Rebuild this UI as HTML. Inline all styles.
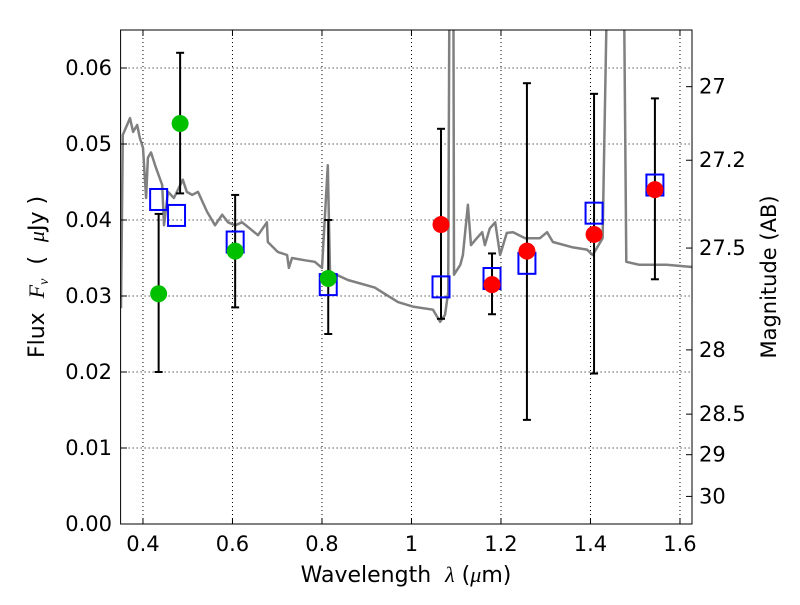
<!DOCTYPE html>
<html><head><meta charset="utf-8"><style>body{margin:0;background:#fff}svg text{font-family:"DejaVu Sans","Liberation Sans",sans-serif}</style></head>
<body>
<svg id="chart" width="800" height="600" xmlns="http://www.w3.org/2000/svg">
<defs><clipPath id="pc"><rect x="120.6" y="30" width="571.4" height="494"/></clipPath></defs>
<g id="grid"></g>
<g id="spec" clip-path="url(#pc)"></g>
<g id="marks"></g>
<rect x="120.6" y="30" width="571.4" height="494" fill="none" stroke="#000" stroke-width="1"/>
<g id="axes" font-size="21"></g>
<text x="406" y="582" font-size="22" text-anchor="middle" xml:space="preserve">Wavelength  <tspan font-style="italic" font-family="Liberation Serif">λ</tspan> (<tspan font-style="italic" font-family="Liberation Serif">μ</tspan>m)</text>
<text transform="translate(44,277) rotate(-90)" font-size="22" text-anchor="middle" xml:space="preserve">Flux  <tspan font-style="italic" font-family="Liberation Serif">F</tspan><tspan font-style="italic" font-size="14" font-family="Liberation Serif" dy="4">ν</tspan><tspan dy="-4">  (  </tspan><tspan font-style="italic" font-family="Liberation Serif">μ</tspan>Jy )</text>
<text transform="translate(776,277) rotate(-90)" font-size="21" text-anchor="middle">Magnitude (AB)</text>
</svg>
<script>
const specX=[0.351,0.355,0.371,0.378,0.387,0.393,0.400,0.407,0.411,0.418,0.427,0.443,0.447,0.456,0.469,0.489,0.498,0.510,0.523,0.543,0.561,0.577,0.590,0.606,0.621,0.634,0.657,0.677,0.679,0.701,0.722,0.726,0.733,0.762,0.784,0.800,0.813,0.818,0.858,0.918,0.970,1.003,1.048,1.064,1.075,1.082,1.086,1.093,1.095,1.109,1.115,1.126,1.133,1.146,1.158,1.164,1.175,1.187,1.198,1.213,1.227,1.254,1.287,1.303,1.316,1.361,1.392,1.405,1.427,1.443,1.472,1.480,1.509,1.570,1.628];
const specY=[0.0284,0.0512,0.0534,0.0516,0.0525,0.0508,0.0495,0.0429,0.0482,0.0489,0.0472,0.0446,0.0393,0.0437,0.0429,0.0453,0.0437,0.0433,0.0437,0.0411,0.0393,0.0407,0.0397,0.0393,0.0397,0.0391,0.0380,0.0397,0.0371,0.0358,0.0354,0.0337,0.0350,0.0347,0.0345,0.0337,0.0472,0.0332,0.0321,0.0311,0.0292,0.0286,0.0282,0.0266,0.0275,0.0305,0.09,0.09,0.0328,0.0341,0.0354,0.0420,0.0367,0.0376,0.0384,0.0367,0.0389,0.0397,0.0354,0.0383,0.0384,0.0376,0.0376,0.0384,0.0371,0.0364,0.0361,0.0354,0.0376,0.09,0.09,0.0345,0.0341,0.0341,0.0338];
const greenX=[0.435,0.483,0.606,0.814];
const greenY=[0.0303,0.0527,0.0359,0.0323];
const greenLo=[0.0200,0.0435,0.0285,0.0250];
const greenHi=[0.0408,0.0620,0.0433,0.0400];
const redX=[1.066,1.180,1.258,1.408,1.544];
const redY=[0.0394,0.0315,0.0359,0.0381,0.0440];
const redLo=[0.0270,0.0276,0.0137,0.0198,0.0322];
const redHi=[0.0520,0.0356,0.0580,0.0566,0.0560];
const modelX=[0.435,0.475,0.606,0.814,1.066,1.180,1.258,1.408,1.544];
const modelY=[0.0427,0.0406,0.0371,0.0315,0.0312,0.0323,0.0343,0.0409,0.0446];
const xTicks=[0.4,0.6,0.8,1.0,1.2,1.4,1.6];
const xTickLabels=["0.4","0.6","0.8","1","1.2","1.4","1.6"];
const yTicks=[0,0.01,0.02,0.03,0.04,0.05,0.06];
const yTickLabels=["0.00","0.01","0.02","0.03","0.04","0.05","0.06"];
const magTicks=[27,27.2,27.5,28,28.5,29,30];
const magTickLabels=["27","27.2","27.5","28","28.5","29","30"];
const X=v=>120.6+(v-0.35)*447.5, Y=v=>524-v*7600;
const M=m=>Y(Math.pow(10,(23.9-m)/2.5));
const NS="http://www.w3.org/2000/svg";
function mk(p,t,a){const e=document.createElementNS(NS,t);for(const k in a)e.setAttribute(k,a[k]);p.appendChild(e);return e;}
const grid=document.getElementById('grid'),axes=document.getElementById('axes'),spec=document.getElementById('spec'),marks=document.getElementById('marks');
xTicks.forEach((t,i)=>{const x=X(t);
 let g=mk(grid,'line',{x1:x,x2:x,y1:30,y2:524,stroke:'#000','stroke-dasharray':'1,3','stroke-width':1});
 
 mk(axes,'line',{x1:x,x2:x,y1:524,y2:518,stroke:'#000'});mk(axes,'line',{x1:x,x2:x,y1:30,y2:36,stroke:'#000'});
 let l=mk(axes,'text',{x:x,y:551,'text-anchor':'middle'});l.textContent=xTickLabels[i];
 });
yTicks.forEach((t,i)=>{const y=Y(t);
 let g=mk(grid,'line',{x1:120.6,x2:692,y1:y,y2:y,stroke:'#000','stroke-dasharray':'1,3','stroke-width':1});
 
 mk(axes,'line',{x1:120.6,x2:127,y1:y,y2:y,stroke:'#000'});
 let l=mk(axes,'text',{x:112,y:y+7,'text-anchor':'end'});l.textContent=yTickLabels[i];
 });
magTicks.forEach((t,i)=>{const y=M(t);
 mk(axes,'line',{x1:686,x2:692,y1:y,y2:y,stroke:'#000'});
 let l=mk(axes,'text',{x:699,y:y+7,'text-anchor':'start'});l.textContent=magTickLabels[i];
 });
let d=specX.map((v,i)=>(i?'L':'M')+X(v).toFixed(1)+','+Y(specY[i]).toFixed(1)).join('');
let sp=mk(spec,'path',{d:d,fill:'none',stroke:'#808080','stroke-width':2.5,'stroke-linejoin':'round'});

function eb(x,lo,hi){const g=mk(marks,'g',{stroke:'#000','stroke-width':2});
 
 mk(g,'line',{x1:X(x),x2:X(x),y1:Y(lo),y2:Y(hi)});
 mk(g,'line',{x1:X(x)-4,x2:X(x)+4,y1:Y(lo),y2:Y(lo)});mk(g,'line',{x1:X(x)-4,x2:X(x)+4,y1:Y(hi),y2:Y(hi)});}
greenX.forEach((x,i)=>eb(x,greenLo[i],greenHi[i]));
redX.forEach((x,i)=>eb(x,redLo[i],redHi[i]));
modelX.forEach((x,i)=>{let r=mk(marks,'rect',{x:X(x)-8.5,y:Y(modelY[i])-10.5,width:17,height:21,fill:'none',stroke:'#0000ff','stroke-width':2});
 });
greenX.forEach((x,i)=>{let c=mk(marks,'circle',{cx:X(x),cy:Y(greenY[i]),r:8.5,fill:'#00c000'});
 });
redX.forEach((x,i)=>{let c=mk(marks,'circle',{cx:X(x),cy:Y(redY[i]),r:8.5,fill:'#ff0000'});
 });
</script>
</body></html>
